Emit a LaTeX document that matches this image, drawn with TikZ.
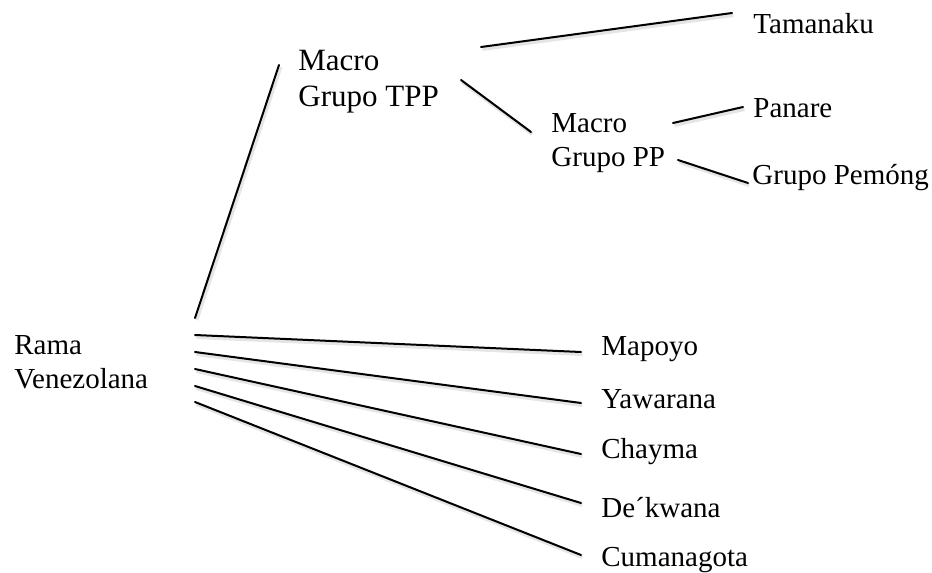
\documentclass[tikz,border=0pt]{standalone}
\usepackage{fontspec}
\setmainfont{Liberation Serif}
\usetikzlibrary{positioning}

\begin{document}
\begin{tikzpicture}[x=0.5pt,y=-0.5pt,
  lang node/.style={anchor=base west,inner sep=0pt,align=left,font=\fontsize{14.5}{17}\selectfont},
  branch/.style={line width=1pt,line cap=round,
    preaction={draw,black!10,line width=2pt,transform canvas={shift={(0.7pt,-1pt)}}}}]
  \useasboundingbox (0,0) rectangle (932,573);

  % two-line nodes sit on the baseline of their last line
  \node[lang node] (rama) at (14,388) {Rama\\Venezolana};
  \node[lang node,font=\fontsize{15.5}{18}\selectfont] (tpp) at (298,106) {Macro\\Grupo TPP};
  \node[lang node] (pp) at (551,166) {Macro\\Grupo PP};
  \node[lang node] (tamanaku) at (753,33) {Tamanaku};
  \node[lang node] (panare) at (753,117) {Panare};
  \node[lang node] (pemong) at (752,184) {Grupo Pemóng};

  % line ends
  \coordinate (rama-up) at (195,318);
  \coordinate (tpp-in) at (279,65);
  \coordinate (tpp-up) at (481,47);
  \coordinate (tamanaku-in) at (732,13);
  \coordinate (tpp-down) at (461,80);
  \coordinate (pp-in) at (531,132);
  \coordinate (pp-up) at (673,123);
  \coordinate (panare-in) at (743,107);
  \coordinate (pp-down) at (678,160);
  \coordinate (pemong-in) at (748,183);

  \draw[branch] (rama-up) -- (tpp-in);
  \draw[branch] (tpp-up) -- (tamanaku-in);
  \draw[branch] (tpp-down) -- (pp-in);
  \draw[branch] (pp-up) -- (panare-in);
  \draw[branch] (pp-down) -- (pemong-in);

  \foreach \n/\txt/\ys/\ye/\yt in {mapoyo/Mapoyo/335/352/355,
      yawarana/Yawarana/352/403/408,
      chayma/Chayma/369/454/458,
      dekwana/De´kwana/386/503/517,
      cumanagota/Cumanagota/402/555/566}{
    \node[lang node] (\n) at (601,\yt) {\txt};
    \coordinate (\n-out) at (195,\ys);
    \coordinate (\n-in) at (581,\ye);
    \draw[branch] (\n-out) -- (\n-in);
  }
\end{tikzpicture}
\end{document}
